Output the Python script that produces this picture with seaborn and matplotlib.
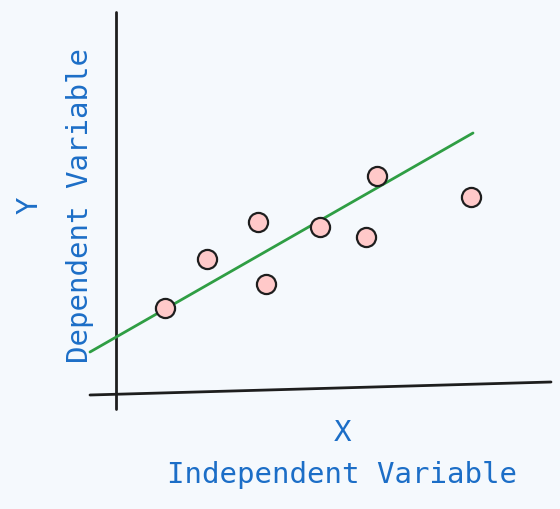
import matplotlib.pyplot as plt
import seaborn as sns
import pandas as pd

x_vals = [165, 207, 258, 266, 320, 366, 377, 471]
y_vals = [201, 250, 287, 225, 282, 272, 333, 312]
fit_x = [90, 473]
fit_y = [157, 376]

sns.set_theme(style="white")
plt.rcParams["font.family"] = ["Lato", "DejaVu Sans"]

bg = "#f5f9fd"
blue = "#1c6ec7"
mono = ["DejaVu Sans Mono"]

fig = plt.figure(figsize=(5.6, 5.09), dpi=100, facecolor=bg)
ax = fig.add_axes([0, 0, 1, 1])
ax.set_facecolor(bg)
ax.set_xlim(0, 560)
ax.set_ylim(0, 509)
ax.axis("off")

# sketched axes
ax.plot([116, 116], [497, 100], color="#1e1e1e", lw=2)
ax.plot([90, 551], [114, 127], color="#1e1e1e", lw=2)

df_fit = pd.DataFrame({"x": fit_x, "y": fit_y})
sns.lineplot(data=df_fit, x="x", y="y", ax=ax, color="#2f9e44", lw=2)

df = pd.DataFrame({"x": x_vals, "y": y_vals})
sns.scatterplot(data=df, x="x", y="y", ax=ax, s=190, color="#ffc9c9",
                edgecolor="#1e1e1e", linewidth=1.6, zorder=3)

ax.text(342, 76, "X", color=blue, fontsize=21, ha="center", va="center", family=mono)
ax.text(342, 34, "Independent Variable", color=blue, fontsize=21,
        ha="center", va="center", family=mono)
ax.text(30, 304, "Y", color=blue, fontsize=21, ha="center", va="center",
        rotation=90, family=mono)
ax.text(80, 304, "Dependent Variable", color=blue, fontsize=21,
        ha="center", va="center", rotation=90, family=mono)
ax.set_xlabel("")
ax.set_ylabel("")

fig.savefig("out.png", dpi=100, facecolor=bg)
